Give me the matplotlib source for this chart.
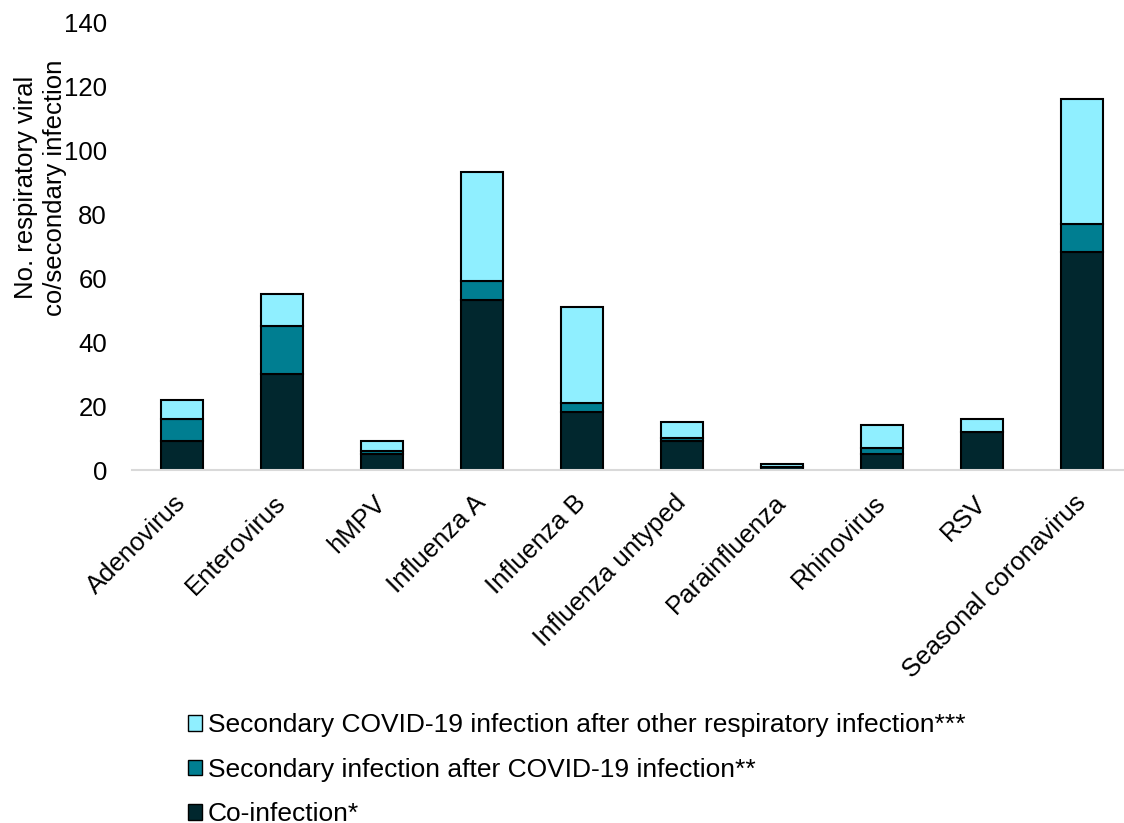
import matplotlib
matplotlib.use('Agg')
import matplotlib.pyplot as plt
import numpy as np
from matplotlib.patches import Patch

plt.rcParams['font.family'] = ['Liberation Sans', 'DejaVu Sans']

viruses = ['Adenovirus', 'Enterovirus', 'hMPV', 'Influenza A', 'Influenza B',
           'Influenza untyped', 'Parainfluenza', 'Rhinovirus', 'RSV', 'Seasonal coronavirus']
co_inf = [9, 30, 5, 53, 18, 9, 1, 5, 12, 68]
sec_after_covid = [7, 15, 1, 6, 3, 1, 0, 2, 0, 9]
covid_after_other = [6, 10, 3, 34, 30, 5, 1, 7, 4, 39]

labels = ['Co-infection*', 'Secondary infection after COVID-19 infection**',
          'Secondary COVID-19 infection after other respiratory infection***']
colors = ['#01272E', '#007E91', '#8FEFFF']

FS = 18.5
fig = plt.figure(figsize=(11.24, 8.23), dpi=100)
# axes runs a little past the right edge, as in the cropped original
ax = fig.add_axes([132/1124, 1-470/823, 1000/1124, 448/823])

x = np.arange(len(viruses))
b1 = np.array(co_inf)
b2 = b1 + np.array(sec_after_covid)
W = 0.42
ax.bar(x, co_inf, W, color=colors[0], edgecolor='black', lw=1.5)
ax.bar(x, sec_after_covid, W, bottom=b1, color=colors[1], edgecolor='black', lw=1.5)
ax.bar(x, covid_after_other, W, bottom=b2, color=colors[2], edgecolor='black', lw=1.5)

ax.set_xlim(-0.5, len(viruses) - 0.5)
ax.set_ylim(0, 140)
ax.set_yticks(range(0, 141, 20))
ax.tick_params(axis='y', length=0, labelsize=FS, pad=18)
ax.tick_params(axis='x', length=0, labelsize=FS, pad=21)
ax.set_xticks(x)
ax.set_xticklabels(viruses, rotation=45, ha='right', va='center', rotation_mode='anchor')
for s in ['top', 'right', 'left']:
    ax.spines[s].set_visible(False)
ax.spines['bottom'].set_color('#D9D9D9')
ax.spines['bottom'].set_linewidth(1.5)

fig.text(0.036, 0.772, 'No. respiratory viral\nco/secondary infection', rotation=90,
         ha='center', va='center', fontsize=FS, linespacing=1.3)

handles = [Patch(facecolor=colors[i], edgecolor='black', lw=1) for i in (2, 1, 0)]
leg = fig.legend(handles, [labels[i] for i in (2, 1, 0)], loc='lower left',
                 bbox_to_anchor=(0.146, -0.033), frameon=False, fontsize=19,
                 handlelength=0.55, handleheight=0.55, handletextpad=0.2,
                 labelspacing=0.78)

fig.savefig('out.png', dpi=100)
